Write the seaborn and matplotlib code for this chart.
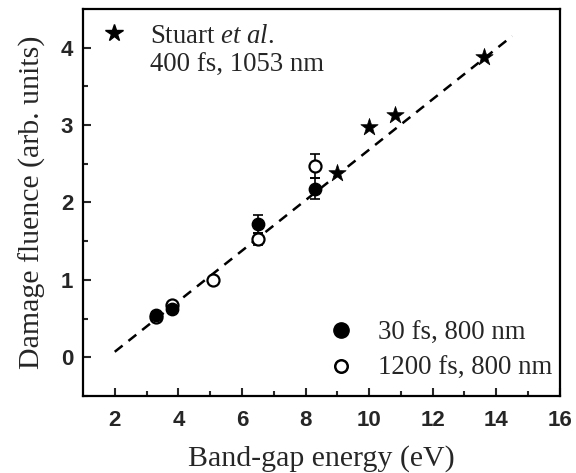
import matplotlib
matplotlib.use("Agg")
import matplotlib.pyplot as plt
import seaborn as sns
import pandas as pd
from matplotlib.lines import Line2D

# ---- data ----
fs30_x = [3.3, 3.8, 6.5, 8.3]
fs30_y = [0.55, 0.62, 1.72, 2.18]
fs30_err = [0.04, 0.04, 0.12, 0.14]

fs1200_x = [3.3, 3.8, 5.1, 6.5, 8.3]
fs1200_y = [0.52, 0.68, 1.00, 1.53, 2.47]
fs1200_err = [0.03, 0.03, 0.03, 0.08, 0.15]

stuart_x = [9.0, 10.0, 10.8, 13.6]
stuart_y = [2.38, 2.98, 3.13, 3.88]

fit_x = [2.0, 14.5]
fit_y = [0.07, 4.15]

xticks = [2, 4, 6, 8, 10, 12, 14, 16]
yticks = [0, 1, 2, 3, 4]

sns.set_theme(style="ticks")
plt.rcParams["font.family"] = ["Liberation Serif", "DejaVu Serif"]
plt.rcParams["mathtext.fontset"] = "custom"
plt.rcParams["mathtext.rm"] = "Liberation Serif"
plt.rcParams["mathtext.it"] = "Liberation Serif:italic"

fig = plt.figure(figsize=(5.76, 4.73), dpi=100)
ax = fig.add_axes([0.144, 0.163, 0.828, 0.818])

sns.lineplot(x=fit_x, y=fit_y, ax=ax, color="black", lw=1.8,
             linestyle=(0, (4, 3)), zorder=1)

ax.errorbar(fs30_x, fs30_y, yerr=fs30_err, fmt="none", ecolor="black",
            elinewidth=1.2, capsize=3.5, capthick=1.2, zorder=2)
ax.errorbar(fs1200_x, fs1200_y, yerr=fs1200_err, fmt="none", ecolor="black",
            elinewidth=1.2, capsize=3.5, capthick=1.2, zorder=2)

sns.scatterplot(x=fs1200_x, y=fs1200_y, ax=ax, marker="o", s=75,
                facecolor="white", edgecolor="black", linewidth=1.6, zorder=3)
sns.scatterplot(x=fs30_x, y=fs30_y, ax=ax, marker="o", s=80,
                color="black", edgecolor="black", linewidth=1.0, zorder=4)
sns.scatterplot(x=stuart_x, y=stuart_y, ax=ax, marker="*", s=170,
                color="black", edgecolor="black", linewidth=0.5, zorder=4)

ax.set_xlim(1, 16)
ax.set_ylim(-0.5, 4.5)
ax.set_xticks(xticks)
ax.set_yticks(yticks)
ax.set_xticks([x + 1 for x in xticks[:-1]], minor=True)
ax.set_yticks([-0.5, 0.5, 1.5, 2.5, 3.5], minor=True)
ax.tick_params(which="major", direction="in", length=6, width=1.5,
               labelsize=16, pad=7)
ax.tick_params(axis="x", which="major", pad=10)
ax.tick_params(which="minor", direction="in", length=3.5, width=1.5)
for lab in ax.get_xticklabels() + ax.get_yticklabels():
    lab.set_fontfamily(["Liberation Sans", "DejaVu Sans"])
    lab.set_fontweight("bold")
for sp in ax.spines.values():
    sp.set_visible(True)
    sp.set_linewidth(1.6)
    sp.set_color("black")

ax.set_xlabel("Band-gap energy (eV)", fontsize=21.5, labelpad=10)
ax.set_ylabel("Damage fluence (arb. units)", fontsize=21.5, labelpad=11)

h_star = Line2D([], [], marker="*", color="black", ls="none", markersize=13)
h_blank = Line2D([], [], ls="none", marker=None)
leg1 = ax.legend([h_star, h_blank],
                 ["Stuart $\\it{et\\ al.}$", "400 fs, 1053 nm"],
                 loc="upper left", frameon=False, fontsize=19.3,
                 handlelength=1.2, handletextpad=0.75, labelspacing=0.15,
                 borderaxespad=0.35, borderpad=0.2)
ax.add_artist(leg1)

h_fill = Line2D([], [], marker="o", color="black", ls="none", markersize=11)
h_open = Line2D([], [], marker="o", markerfacecolor="white",
                markeredgecolor="black", markeredgewidth=1.8, ls="none",
                markersize=9)
ax.legend([h_fill, h_open], ["30 fs, 800 nm", "1200 fs, 800 nm"],
          loc="lower right", bbox_to_anchor=(1.014, 0.0), frameon=False,
          fontsize=19.3, handlelength=1.2, handletextpad=0.75,
          labelspacing=0.4, borderaxespad=0.35, borderpad=0.2)

fig.savefig("out.png", dpi=100)
